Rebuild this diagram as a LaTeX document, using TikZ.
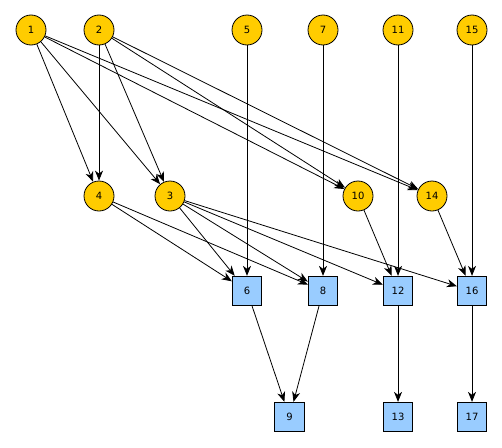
\documentclass[tikz,border=0pt]{standalone}
\usepackage{fontspec}
\setmainfont{DejaVu Sans}
\usetikzlibrary{arrows.meta}
\definecolor{cy}{HTML}{FFCC00}
\definecolor{sb}{HTML}{99CCFF}
\begin{document}
\begin{tikzpicture}[x=1pt,y=-1pt,
  cnode/.style={circle,draw=black,fill=cy,line width=0.8pt,minimum size=30pt,inner sep=0pt,font=\fontsize{10}{12}\selectfont},
  snode/.style={rectangle,draw=black,fill=sb,line width=0.8pt,minimum size=29.5pt,inner sep=0pt,font=\fontsize{10}{12}\selectfont},
  edge/.style={-{Stealth[length=10pt,width=8pt,inset=3pt]},line width=0.8pt,black}]
\useasboundingbox (0,0) rectangle (502,447);
\node[cnode] (n1) at (31,30) {1};
\node[cnode] (n2) at (99,30) {2};
\node[cnode] (n5) at (247,30) {5};
\node[cnode] (n7) at (323,30) {7};
\node[cnode] (n11) at (398,30) {11};
\node[cnode] (n15) at (472,30) {15};
\node[cnode] (n4) at (99,196) {4};
\node[cnode] (n3) at (170,196) {3};
\node[cnode] (n10) at (358,196) {10};
\node[cnode] (n14) at (432,196) {14};
\node[snode] (n6) at (247,291) {6};
\node[snode] (n8) at (323,291) {8};
\node[snode] (n12) at (398,291) {12};
\node[snode] (n16) at (472,291) {16};
\node[snode] (n9) at (289.5,417) {9};
\node[snode] (n13) at (398,417) {13};
\node[snode] (n17) at (472,417) {17};
\foreach \a/\b in {n1/n4,n1/n3,n1/n10,n1/n14,n2/n4,n2/n3,n2/n10,n2/n14,
  n5/n6,n7/n8,n11/n12,n15/n16,n4/n6,n4/n8,n3/n6,n3/n8,n3/n12,n3/n16,
  n10/n12,n14/n16,n6/n9,n8/n9,n12/n13,n16/n17}
  \draw[edge] (\a) -- (\b);
\end{tikzpicture}
\end{document}
